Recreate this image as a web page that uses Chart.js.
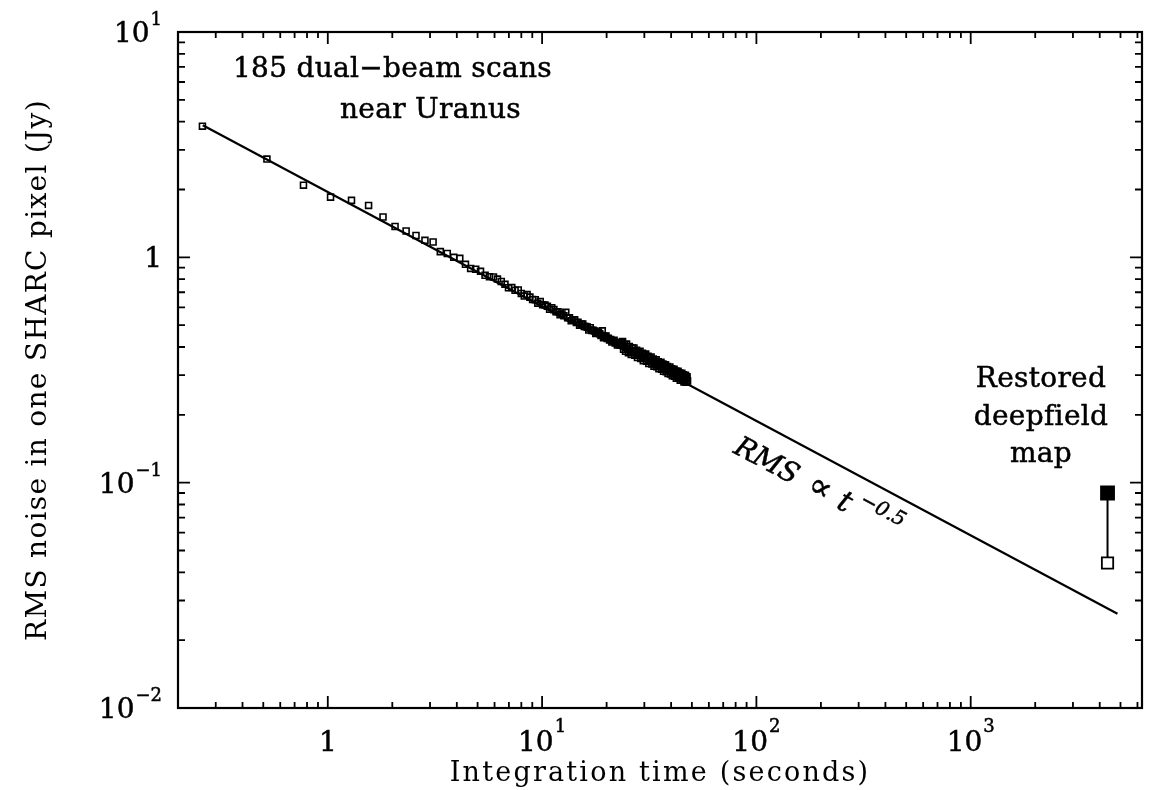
<!DOCTYPE html>
<html><head><meta charset="utf-8">
<script src="https://cdn.jsdelivr.net/npm/chart.js@4.4.1/dist/chart.umd.min.js"></script>
<style>html,body{margin:0;padding:0;background:#fff;}canvas{display:block;}</style>
</head><body>
<canvas id="c" width="1153" height="790"></canvas>
<script>
// ---- data ----
const scanTimes = [
0.26,0.52,0.77,1.03,1.29,1.55,1.81,2.06,2.32,2.58,
2.84,3.10,3.35,3.61,3.87,4.13,4.39,4.64,4.90,5.16,
5.42,5.68,5.93,6.19,6.45,6.71,6.97,7.22,7.48,7.74,
8.00,8.26,8.51,8.77,9.03,9.29,9.55,9.80,10.06,10.32,
10.58,10.84,11.09,11.35,11.61,11.87,12.13,12.38,12.64,12.90,
13.16,13.42,13.67,13.93,14.19,14.45,14.71,14.96,15.22,15.48,
15.74,16.00,16.25,16.51,16.77,17.03,17.29,17.54,17.80,18.06,
18.32,18.58,18.83,19.09,19.35,19.61,19.87,20.12,20.38,20.64,
20.90,21.16,21.41,21.67,21.93,22.19,22.45,22.70,22.96,23.22,
23.48,23.74,23.99,24.25,24.51,24.77,25.03,25.28,25.54,25.80,
26.06,26.32,26.57,26.83,27.09,27.35,27.61,27.86,28.12,28.38,
28.64,28.90,29.15,29.41,29.67,29.93,30.19,30.44,30.70,30.96,
31.22,31.48,31.73,31.99,32.25,32.51,32.77,33.02,33.28,33.54,
33.80,34.06,34.31,34.57,34.83,35.09,35.35,35.60,35.86,36.12,
36.38,36.64,36.89,37.15,37.41,37.67,37.93,38.18,38.44,38.70,
38.96,39.22,39.47,39.73,39.99,40.25,40.51,40.76,41.02,41.28,
41.54,41.80,42.05,42.31,42.57,42.83,43.09,43.34,43.60,43.86,
44.12,44.38,44.63,44.89,45.15,45.41,45.67,45.92,46.18,46.44,
46.70,46.96,47.21,47.47,47.73
];
const scanRms = [
3.82,2.73,2.09,1.85,1.79,1.70,1.51,1.37,1.31,1.25,
1.19,1.17,1.06,1.04,1.00,0.99,0.931,0.893,0.885,0.867,
0.832,0.820,0.818,0.801,0.782,0.759,0.733,0.734,0.714,0.716,
0.691,0.673,0.683,0.666,0.650,0.648,0.626,0.637,0.616,0.614,
0.607,0.588,0.598,0.586,0.574,0.573,0.556,0.561,0.550,0.570,
0.539,0.539,0.523,0.529,0.529,0.514,0.515,0.500,0.506,0.506,
0.493,0.493,0.490,0.476,0.487,0.474,0.475,0.471,0.459,0.460,
0.466,0.458,0.450,0.472,0.440,0.446,0.447,0.436,0.437,0.430,
0.432,0.421,0.426,0.428,0.417,0.419,0.408,0.414,0.408,0.414,
0.419,0.423,0.391,0.409,0.383,0.412,0.394,0.377,0.402,0.385,
0.371,0.396,0.383,0.396,0.368,0.381,0.387,0.359,0.379,0.367,
0.383,0.356,0.369,0.375,0.348,0.368,0.359,0.372,0.346,0.358,
0.364,0.338,0.357,0.345,0.361,0.336,0.348,0.354,0.329,0.347,
0.336,0.351,0.327,0.339,0.344,0.320,0.338,0.331,0.342,0.319,
0.330,0.336,0.312,0.330,0.319,0.334,0.311,0.322,0.328,0.305,
0.322,0.312,0.326,0.304,0.315,0.320,0.298,0.315,0.308,0.319,
0.297,0.308,0.313,0.291,0.308,0.299,0.312,0.291,0.302,0.307,
0.285,0.302,0.295,0.306,0.285,0.296,0.301,0.280,0.296,0.287,
0.300,0.279,0.290,0.295,0.283
];
const fitTimes = [0.261, 4840];
const fitRms = [3.86, 0.0262];
const deepTimes = [4350, 4350];
const deepRms = [0.044, 0.090];
// tick labels: base text and exponent (drawn as superscript)
const xLabelValues = [1, 10, 100, 1000];
const xLabelBase = ['1', '10', '10', '10'];
const xLabelExp = ['', '1', '2', '3'];
const yLabelValues = [0.01, 0.1, 1, 10];
const yLabelBase = ['10', '10', '1', '10'];
const yLabelExp = ['\u22122', '\u22121', '', '1'];

// ---- drawing ----
const SERIF = "'DejaVu Serif', serif";
function inkText(c, s, x, y) { c.fillText(s, x, y); c.strokeText(s, x, y); }
const BASE_FONT = '28px ' + SERIF, EXP_FONT = '18px ' + SERIF;
const TITLE_SPACING = { x: '2.2px', y: '1.3px' };

const framePlugin = {
  id: 'framePlugin',
  beforeDraw(chart) {
    const c = chart.ctx;
    c.save(); c.fillStyle = '#fff'; c.fillRect(0, 0, chart.width, chart.height); c.restore();
    ['x', 'y'].forEach(k => {
      const s = chart.scales[k];
      if (!s._lsPatched) {
        const orig = s.drawTitle.bind(s);
        s.drawTitle = function () { const cx = this.ctx; cx.save(); cx.letterSpacing = TITLE_SPACING[k]; orig(); cx.restore(); };
        s._lsPatched = true;
      }
    });
  },
  afterDatasetsDraw(chart) {
    const c = chart.ctx, a = chart.chartArea, xs = chart.scales.x, ys = chart.scales.y;
    c.save();
    c.strokeStyle = '#000';
    c.lineWidth = 2.2;
    c.strokeRect(a.left, a.top, a.right - a.left, a.bottom - a.top);
    c.lineWidth = 1.8;
    const mant = v => { const e = Math.floor(Math.log10(v) + 1e-9); const m = v / Math.pow(10, e); const r = Math.round(m); return (Math.abs(m - r) < 1e-6 && r >= 1 && r <= 9) ? r : 0; };
    c.beginPath();
    xs.ticks.forEach(t => {
      const r = mant(t.value); if (!r) return;
      const px = xs.getPixelForValue(t.value);
      if (px < a.left + 1 || px > a.right - 1) return;
      const len = r === 1 ? 12 : 6;
      c.moveTo(px, a.bottom); c.lineTo(px, a.bottom - len);
      c.moveTo(px, a.top); c.lineTo(px, a.top + len);
    });
    ys.ticks.forEach(t => {
      const r = mant(t.value); if (!r) return;
      const py = ys.getPixelForValue(t.value);
      if (py < a.top + 1 || py > a.bottom - 1) return;
      const len = r === 1 ? 12 : 7;
      c.moveTo(a.left, py); c.lineTo(a.left + len, py);
      c.moveTo(a.right, py); c.lineTo(a.right - len, py);
    });
    c.stroke();
    c.restore();
  },
  afterDraw(chart) {
    const c = chart.ctx, xs = chart.scales.x, ys = chart.scales.y, a = chart.chartArea;
    c.save();
    c.fillStyle = '#000';
    c.strokeStyle = '#000';
    c.lineWidth = 0.5;
    c.textBaseline = 'alphabetic';
    c.letterSpacing = '0px';
    // tick labels with superscript exponents, placed through the scales
    c.textAlign = 'left';
    xLabelValues.forEach((v, i) => {
      const px = xs.getPixelForValue(v);
      c.font = BASE_FONT; const wb = c.measureText(xLabelBase[i]).width;
      c.font = EXP_FONT; const we = xLabelExp[i] ? c.measureText(xLabelExp[i]).width + 1 : 0;
      const x0 = px - (wb + we) / 2;
      const base = a.bottom + 43;
      c.font = BASE_FONT; inkText(c, xLabelBase[i], x0, base);
      if (we) { c.font = EXP_FONT; inkText(c, xLabelExp[i], x0 + wb + 1, base - 19); }
    });
    const yRight = a.left - 16;
    yLabelValues.forEach((v, i) => {
      const py = ys.getPixelForValue(v);
      c.font = BASE_FONT; const wb = c.measureText(yLabelBase[i]).width;
      c.font = EXP_FONT; const we = yLabelExp[i] ? c.measureText(yLabelExp[i]).width + 1 : 0;
      const x0 = yRight - wb - we;
      c.font = BASE_FONT; inkText(c, yLabelBase[i], x0, py + 10);
      if (we) { c.font = EXP_FONT; inkText(c, yLabelExp[i], x0 + wb + 1, py - 7); }
    });
    // annotations
    c.letterSpacing = '0.3px';
    c.font = BASE_FONT;
    c.textAlign = 'left';
    inkText(c, '185 dual\u2212beam scans', 233, 77);
    inkText(c, 'near Uranus', 340, 118);
    c.textAlign = 'center';
    inkText(c, 'Restored', 1041, 387);
    inkText(c, 'deepfield', 1041, 425);
    inkText(c, 'map', 1041, 462);
    // label along the fitted line
    const p0 = { x: xs.getPixelForValue(fitTimes[0]), y: ys.getPixelForValue(fitRms[0]) };
    const p1 = { x: xs.getPixelForValue(fitTimes[1]), y: ys.getPixelForValue(fitRms[1]) };
    const ang = Math.atan2(p1.y - p0.y, p1.x - p0.x);
    c.translate(p0.x, p0.y);
    c.rotate(ang);
    c.textAlign = 'left';
    c.letterSpacing = '0px';
    c.font = 'italic 28px ' + SERIF;
    inkText(c, 'RMS', 621, 39);
    c.font = '34px ' + SERIF;
    inkText(c, '\u221D', 704, 39);
    c.font = 'italic 30px ' + SERIF;
    inkText(c, 't', 738, 39);
    c.font = 'italic 20px ' + SERIF;
    inkText(c, '\u22120.5', 757, 25);
    c.restore();
  }
};

new Chart(document.getElementById('c'), {
  type: 'scatter',
  data: {
    datasets: [
      {
        label: '185 dual-beam scans near Uranus',
        data: scanTimes.map((t, i) => ({ x: t, y: scanRms[i] })),
        pointStyle: 'rect', pointRadius: 4.2,
        pointBorderColor: '#000', pointBackgroundColor: 'rgba(0,0,0,0)', pointBorderWidth: 1.6,
        showLine: false
      },
      {
        label: 'RMS \u221D t^-0.5',
        data: fitTimes.map((t, i) => ({ x: t, y: fitRms[i] })),
        showLine: true, borderColor: '#000', borderWidth: 2.2, pointRadius: 0, fill: false
      },
      {
        label: 'Restored deepfield map',
        data: deepTimes.map((t, i) => ({ x: t, y: deepRms[i] })),
        showLine: true, borderColor: '#000', borderWidth: 2,
        pointStyle: 'rect', pointRadius: [8, 9.2],
        pointBackgroundColor: ['#fff', '#000'], pointBorderColor: '#000', pointBorderWidth: 1.8
      }
    ]
  },
  options: {
    responsive: false, animation: false, events: [],
    layout: { padding: { top: 32, right: 6, left: 0, bottom: 0 } },
    plugins: { legend: { display: false }, tooltip: { enabled: false } },
    scales: {
      x: {
        type: 'logarithmic', position: 'bottom', min: 0.2, max: 6300,
        grid: { display: false, drawTicks: false }, border: { display: false },
        ticks: { display: false, autoSkip: false },
        title: { display: true, text: 'Integration time (seconds)', color: '#000',
                 font: { family: SERIF, size: 27 }, padding: { top: 0, bottom: 0 } },
        afterFit(s) { s.height = 82; }
      },
      y: {
        type: 'logarithmic', position: 'left', min: 0.01, max: 10,
        grid: { display: false, drawTicks: false }, border: { display: false },
        ticks: { display: false, autoSkip: false },
        title: { display: true, text: 'RMS noise in one SHARC pixel (Jy)', color: '#000',
                 font: { family: SERIF, size: 28 }, padding: { top: 22, bottom: 0 } },
        afterFit(s) { s.width = 178; }
      }
    }
  },
  plugins: [framePlugin]
});
</script>
</body></html>
